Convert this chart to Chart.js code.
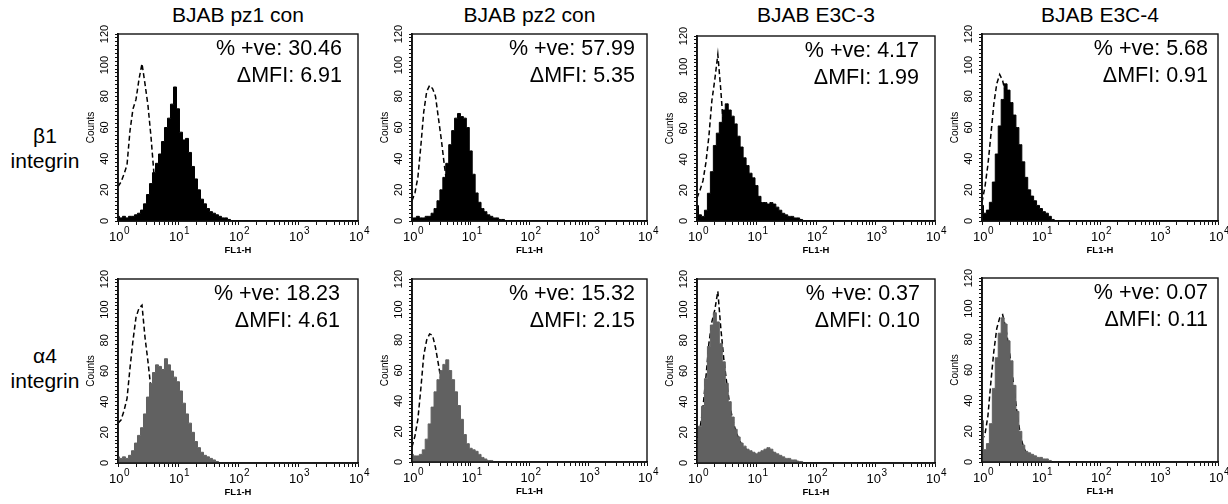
<!DOCTYPE html>
<html>
<head>
<meta charset="utf-8">
<script src="https://cdn.jsdelivr.net/npm/chart.js@4.4.1/dist/chart.umd.min.js"></script>
<style>
  body { margin: 0; background: #fff; }
  #figure { position: relative; width: 1228px; height: 504px; overflow: hidden;
    font-family: "Liberation Sans", Arial, sans-serif; color: #000; }
  .panel { position: absolute; }
  .panel canvas { position: absolute; left: 0; top: 0; }
  .stats { position: absolute; font-size: 21.5px; line-height: 27px; text-align: right; white-space: nowrap; }
  .colTitle { position: absolute; width: 240px; font-size: 21px; line-height: 22px; text-align: center; white-space: nowrap; }
  .rowLabel { position: absolute; width: 90px; font-size: 21px; line-height: 25px; text-align: center; }
</style>
</head>
<body>
<div id="figure"></div>
<script>
// FL1-H channel positions (log steps of 0.05 from 10^0 to 10^2)
var fl1Channels = [1, 1.122, 1.259, 1.413, 1.585, 1.778, 1.995, 2.239, 2.512, 2.818,
  3.162, 3.548, 3.981, 4.467, 5.012, 5.623, 6.310, 7.079, 7.943, 8.913,
  10, 11.22, 12.59, 14.13, 15.85, 17.78, 19.95, 22.39, 25.12, 28.18,
  31.62, 35.48, 39.81, 44.67, 50.12, 56.23, 63.10, 70.79, 79.43, 89.13, 100];

var xDecades = [1, 10, 100, 1000, 10000];

var columnTitles = ["BJAB pz1 con", "BJAB pz2 con", "BJAB E3C-3", "BJAB E3C-4"];
var rowNames = ["β1", "α4"];

var pctPositiveB1 = ["30.46", "57.99", "4.17", "5.68"];
var deltaMfiB1 = ["6.91", "5.35", "1.99", "0.91"];
var pctPositiveA4 = ["18.23", "15.32", "0.37", "0.07"];
var deltaMfiA4 = ["4.61", "2.15", "0.10", "0.11"];

// beta1 integrin: stained (filled) and isotype control (dashed) counts
var b1Pz1 = [3, 2, 3, 2, 3, 3, 4, 5, 7, 11, 17, 24, 31, 37, 43, 51, 60, 66, 75, 86, 72, 57, 52, 53, 44, 35, 27, 20, 14, 11, 8, 6, 5, 4, 3, 2, 2, 1, 0];
var b1Pz1Ctrl = [22, 25, 30, 36, 58, 72, 78, 91, 101, 88, 74, 54, 30, 18, 11, 6, 4, 3, 2, 1, 1, 0];
var b1Pz2 = [2, 2, 3, 2, 2, 3, 3, 5, 8, 13, 20, 28, 37, 49, 58, 66, 69, 67, 66, 60, 45, 30, 18, 12, 8, 6, 4, 3, 2, 2, 1, 1, 0];
var b1Pz2Ctrl = [13, 18, 28, 48, 70, 83, 87, 85, 80, 66, 52, 36, 22, 13, 8, 5, 3, 2, 1, 1, 0];
var b1E3c3 = [10, 4, 3, 7, 18, 32, 49, 57, 64, 72, 76, 72, 68, 63, 55, 48, 41, 36, 31, 28, 23, 16, 12, 12, 11, 12, 11, 9, 7, 5, 4, 3, 3, 2, 2, 1, 0];
var b1E3c3Ctrl = [15, 20, 26, 38, 55, 78, 92, 108, 85, 58, 38, 22, 12, 7, 4, 3, 2, 1, 0];
var b1E3c4 = [10, 5, 7, 12, 25, 43, 61, 78, 88, 84, 76, 68, 60, 49, 38, 28, 20, 16, 13, 10, 8, 6, 5, 3, 1, 0];
var b1E3c4Ctrl = [12, 22, 36, 55, 75, 88, 94, 90, 82, 72, 60, 47, 36, 26, 18, 12, 8, 5, 3, 2, 1, 0];

// alpha4 integrin
var a4Pz1 = [4, 3, 4, 3, 5, 8, 13, 18, 23, 32, 43, 52, 59, 64, 63, 61, 68, 64, 60, 56, 53, 47, 39, 32, 26, 20, 14, 10, 7, 5, 4, 3, 2, 1, 0];
var a4Pz1Ctrl = [26, 28, 34, 42, 62, 80, 95, 101, 103, 82, 66, 48, 32, 20, 12, 7, 4, 3, 2, 1, 0];
var a4Pz2 = [5, 4, 4, 5, 8, 15, 25, 36, 46, 54, 60, 64, 67, 60, 54, 46, 37, 28, 18, 12, 9, 8, 7, 5, 3, 2, 1, 1, 0];
var a4Pz2Ctrl = [10, 17, 28, 48, 70, 80, 84, 83, 75, 64, 52, 38, 25, 16, 10, 6, 4, 2, 1, 0];
var a4E3c3 = [16, 24, 37, 55, 76, 90, 98, 92, 78, 66, 52, 40, 30, 22, 17, 13, 11, 9, 8, 7, 6, 7, 8, 9, 10, 9, 7, 6, 5, 4, 3, 3, 2, 2, 1, 1, 0];
var a4E3c3Ctrl = [14, 22, 36, 56, 78, 92, 100, 112, 88, 68, 52, 38, 28, 21, 16, 12, 10, 8, 7, 6, 6, 6, 7, 8, 9, 8, 6, 5, 4, 3, 2, 2, 1, 1, 1, 0];
var a4E3c4 = [27, 8, 12, 25, 48, 68, 84, 94, 90, 79, 66, 50, 33, 20, 11, 7, 6, 5, 4, 3, 3, 2, 2, 1, 0];
var a4E3c4Ctrl = [14, 18, 30, 52, 72, 87, 94, 96, 88, 76, 62, 46, 30, 18, 10, 6, 4, 3, 2, 1, 1, 0];

// plot area of every panel: left, top, right, bottom (px)
var plotBoxes = [
  [118, 34, 358, 221], [412, 34, 647, 221], [697, 36, 935, 221], [982, 34, 1218, 221],
  [118, 279, 358, 463], [412, 279, 647, 462], [697, 279, 935, 463], [982, 278, 1218, 462]
];
var statsRightGap = [16, 12, 16, 10, 18, 12, 15, 10];

var FONT = '"Liberation Sans", Arial, sans-serif';
var PAD_L = 34, PAD_T = 12, PAD_R = 12, PAD_B = 36;

var plotBox = {
  id: "plotBox",
  afterDraw: function (chart) {
    var a = chart.chartArea, ctx = chart.ctx;
    ctx.save();
    ctx.strokeStyle = "#111";
    ctx.lineWidth = 1.4;
    ctx.strokeRect(a.left, a.top, a.right - a.left, a.bottom - a.top);
    ctx.restore();
  }
};

// "10" with the exponent raised, under each decade
var decadeLabels = {
  id: "decadeLabels",
  afterDraw: function (chart) {
    var ctx = chart.ctx, sx = chart.scales.x, base = chart.chartArea.bottom;
    ctx.save();
    ctx.fillStyle = "#000";
    ctx.textAlign = "left";
    ctx.textBaseline = "alphabetic";
    for (var e = 0; e < xDecades.length; e++) {
      var px = sx.getPixelForValue(xDecades[e]);
      ctx.font = "13px " + FONT;
      var w1 = ctx.measureText("10").width;
      ctx.font = "10px " + FONT;
      var w2 = ctx.measureText(String(e)).width;
      var x0 = px - (w1 + w2) / 2 + 1;
      ctx.font = "13px " + FONT;
      ctx.fillText("10", x0, base + 20);
      ctx.font = "10px " + FONT;
      ctx.fillText(String(e), x0 + w1 + 0.5, base + 13);
    }
    ctx.restore();
  }
};

function toPoints(counts) {
  var pts = [];
  for (var i = 0; i < counts.length; i++) {
    pts.push({ x: fl1Channels[i], y: counts[i] });
  }
  pts.push({ x: 10000, y: 0 });
  return pts;
}

function makePanel(idx, stained, control, fillColor, pct, mfi) {
  var b = plotBoxes[idx];
  var w = b[2] - b[0] + PAD_L + PAD_R;
  var h = b[3] - b[1] + PAD_T + PAD_B;

  var div = document.createElement("div");
  div.className = "panel";
  div.style.left = (b[0] - PAD_L) + "px";
  div.style.top = (b[1] - PAD_T) + "px";
  div.style.width = w + "px";
  div.style.height = h + "px";

  var canvas = document.createElement("canvas");
  canvas.width = w;
  canvas.height = h;
  div.appendChild(canvas);

  var stats = document.createElement("div");
  stats.className = "stats";
  stats.style.right = (PAD_R + statsRightGap[idx]) + "px";
  stats.style.top = (PAD_T + 1) + "px";
  stats.innerHTML = `% +ve: ${pct}<br>ΔMFI: ${mfi}`;
  div.appendChild(stats);

  figure.appendChild(div);

  var xTicks = [];
  for (var d = 0; d < 4; d++) {
    for (var m = 1; m <= 9; m++) xTicks.push({ value: xDecades[d] * m });
  }
  xTicks.push({ value: 10000 });
  var yTicks = [];
  for (var v = 0; v <= 120; v += 2.5) yTicks.push({ value: v });

  new Chart(canvas.getContext("2d"), {
    type: "line",
    data: {
      datasets: [
        {
          data: toPoints(stained),
          borderColor: fillColor,
          backgroundColor: fillColor,
          borderWidth: 1,
          fill: "origin",
          stepped: "middle",
          pointRadius: 0
        },
        {
          data: toPoints(control),
          borderColor: "#000",
          borderWidth: 1.5,
          borderDash: [5, 3],
          fill: false,
          pointRadius: 0
        }
      ]
    },
    options: {
      responsive: false,
      animation: false,
      events: [],
      layout: { padding: { left: 0, top: PAD_T, right: PAD_R, bottom: 0 } },
      plugins: { legend: { display: false }, tooltip: { enabled: false } },
      scales: {
        x: {
          type: "logarithmic",
          min: 1,
          max: 10000,
          afterBuildTicks: function (s) { s.ticks = xTicks.slice(); },
          afterFit: function (s) { s.height = PAD_B; s.paddingLeft = 0; s.paddingRight = 0; },
          grid: { drawOnChartArea: false, tickLength: 4, color: "#111", lineWidth: 1 },
          border: { color: "#111", width: 1.8 },
          ticks: { autoSkip: false, maxRotation: 0, callback: function () { return ""; } },
          title: { display: true, text: "FL1-H", color: "#000",
            font: { family: FONT, size: 9.5, weight: "bold" }, padding: { top: 0, bottom: 1 } }
        },
        y: {
          min: 0,
          max: 120,
          afterBuildTicks: function (s) { s.ticks = yTicks.slice(); },
          afterFit: function (s) { s.width = PAD_L; s.paddingTop = 0; s.paddingBottom = 0; },
          grid: { drawOnChartArea: false, tickLength: 3, color: "#111", lineWidth: 1 },
          border: { color: "#111", width: 1.8 },
          ticks: {
            autoSkip: false,
            minRotation: 90,
            maxRotation: 90,
            crossAlign: "center",
            padding: 1,
            color: "#000",
            font: { family: FONT, size: 11 },
            callback: function (val) { return val % 20 === 0 ? String(val) : ""; }
          },
          title: { display: true, text: "Counts", color: "#000",
            font: { family: FONT, size: 10 }, padding: { top: 1, bottom: 0 } }
        }
      }
    },
    plugins: [plotBox, decadeLabels]
  });
}

function addText(cls, text, left, top) {
  var el = document.createElement("div");
  el.className = cls;
  el.style.left = left + "px";
  el.style.top = top + "px";
  el.innerHTML = text;
  figure.appendChild(el);
}

var figure = document.getElementById("figure");

for (var c = 0; c < 4; c++) {
  var mid = (plotBoxes[c][0] + plotBoxes[c][2]) / 2;
  addText("colTitle", columnTitles[c], mid - 120, 4);
}
addText("rowLabel", rowNames[0] + "<br>integrin", 0, 123);
addText("rowLabel", rowNames[1] + "<br>integrin", 0, 343);

var black = "#000", grey = "#616161";
makePanel(0, b1Pz1, b1Pz1Ctrl, black, pctPositiveB1[0], deltaMfiB1[0]);
makePanel(1, b1Pz2, b1Pz2Ctrl, black, pctPositiveB1[1], deltaMfiB1[1]);
makePanel(2, b1E3c3, b1E3c3Ctrl, black, pctPositiveB1[2], deltaMfiB1[2]);
makePanel(3, b1E3c4, b1E3c4Ctrl, black, pctPositiveB1[3], deltaMfiB1[3]);
makePanel(4, a4Pz1, a4Pz1Ctrl, grey, pctPositiveA4[0], deltaMfiA4[0]);
makePanel(5, a4Pz2, a4Pz2Ctrl, grey, pctPositiveA4[1], deltaMfiA4[1]);
makePanel(6, a4E3c3, a4E3c3Ctrl, grey, pctPositiveA4[2], deltaMfiA4[2]);
makePanel(7, a4E3c4, a4E3c4Ctrl, grey, pctPositiveA4[3], deltaMfiA4[3]);
</script>
</body>
</html>
